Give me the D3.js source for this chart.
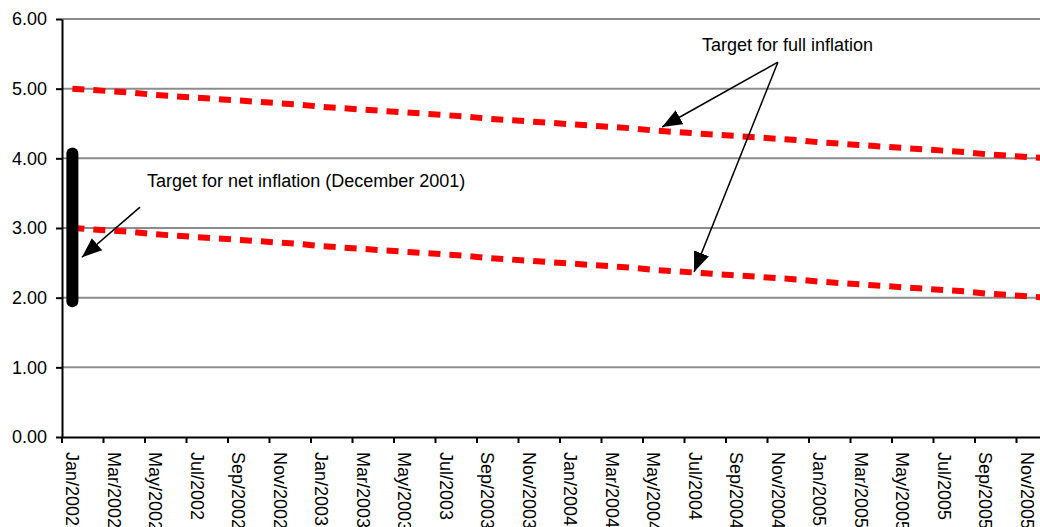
<!DOCTYPE html>
<html>
<head>
<meta charset="utf-8">
<script src="https://cdn.jsdelivr.net/npm/d3@7"></script>
<style>
  body { margin: 0; background: #fff; }
  text { font-family: Arial, "Liberation Sans", sans-serif; }
</style>
</head>
<body>
<svg id="chart"></svg>
<script>
// months Jan/2002 .. Dec/2005
var monthNames = ["Jan","Feb","Mar","Apr","May","Jun","Jul","Aug","Sep","Oct","Nov","Dec"];
var years = [2002, 2003, 2004, 2005];
var months = [];
years.forEach(function (yr) {
  monthNames.forEach(function (m) { months.push(m + "/" + yr); });
});

// full inflation target band (upper / lower)
var upperTarget = [5.00, 4.98, 4.96, 4.94, 4.91, 4.89, 4.87, 4.85, 4.83, 4.81, 4.79, 4.77,
                   4.74, 4.72, 4.70, 4.68, 4.66, 4.64, 4.62, 4.60, 4.57, 4.55, 4.53, 4.51,
                   4.49, 4.47, 4.45, 4.43, 4.40, 4.38, 4.36, 4.34, 4.32, 4.30, 4.28, 4.26,
                   4.23, 4.21, 4.19, 4.17, 4.15, 4.13, 4.11, 4.09, 4.06, 4.04, 4.02, 4.00];
var lowerTarget = [3.00, 2.98, 2.96, 2.94, 2.91, 2.89, 2.87, 2.85, 2.83, 2.81, 2.79, 2.77,
                   2.74, 2.72, 2.70, 2.68, 2.66, 2.64, 2.62, 2.60, 2.57, 2.55, 2.53, 2.51,
                   2.49, 2.47, 2.45, 2.43, 2.40, 2.38, 2.36, 2.34, 2.32, 2.30, 2.28, 2.26,
                   2.23, 2.21, 2.19, 2.17, 2.15, 2.13, 2.11, 2.09, 2.06, 2.04, 2.02, 2.00];

// net inflation target range (December 2001)
var netTarget = [4.07, 1.95];

var yTicks = [0, 1, 2, 3, 4, 5, 6];

var width = 1040, height = 527;
var plotLeft = 62, plotTop = 19, plotBottom = 437;
var monthW = 20.75;

var svg = d3.select("#chart").attr("width", width).attr("height", height);

var xs = d3.scaleBand()
  .domain(months)
  .range([plotLeft, plotLeft + months.length * monthW])
  .padding(0);
var bw = xs.bandwidth();

var ys = d3.scaleLinear().domain([0, 6]).range([plotBottom, plotTop]);

// position helper: fractional month from the left of the axis
function xAt(i) { return plotLeft + i * bw; }

// gridlines
svg.append("g")
  .selectAll("line")
  .data(yTicks.filter(function (d) { return d > 0; }))
  .enter()
  .append("line")
  .attr("x1", plotLeft)
  .attr("x2", width)
  .attr("y1", function (d) { return ys(d); })
  .attr("y2", function (d) { return ys(d); })
  .attr("stroke", "#8c8c8c")
  .attr("stroke-width", 2);

// y axis
var yAxis = svg.append("g")
  .attr("transform", "translate(" + plotLeft + ",0)")
  .call(d3.axisLeft(ys).tickValues(yTicks).tickFormat(d3.format(".2f")).tickSize(6).tickSizeOuter(0));
yAxis.select(".domain").attr("stroke", "#000").attr("stroke-width", 2);
yAxis.selectAll(".tick line").attr("stroke", "#000").attr("stroke-width", 2);
yAxis.selectAll(".tick text")
  .attr("x", -15)
  .style("font-size", "18px")
  .attr("fill", "#000");

// x axis
var labelMonths = months.filter(function (d, i) { return i % 2 == 0; });
var xAxis = svg.append("g")
  .attr("transform", "translate(0," + plotBottom + ")")
  .call(d3.axisBottom(xs).tickValues(labelMonths).tickSize(6).tickSizeOuter(0));
xAxis.select(".domain").attr("stroke", "#000").attr("stroke-width", 2);
xAxis.selectAll(".tick line")
  .attr("x1", -bw / 2)
  .attr("x2", -bw / 2)
  .attr("stroke", "#000")
  .attr("stroke-width", 2);
xAxis.selectAll(".tick text")
  .attr("transform", "rotate(90)")
  .attr("x", 15)
  .attr("y", 0)
  .attr("dy", "0.35em")
  .attr("dx", 0)
  .style("text-anchor", "start")
  .style("font-size", "18px")
  .attr("fill", "#000");

// target lines
var line = d3.line()
  .x(function (d, i) { return xs(months[i]) + bw / 2; })
  .y(function (d) { return ys(d); });

[upperTarget, lowerTarget].forEach(function (series) {
  svg.append("path")
    .datum(series)
    .attr("d", line)
    .attr("fill", "none")
    .attr("stroke", "#ff0000")
    .attr("stroke-width", 6)
    .attr("stroke-dasharray", "12,9");
});

// net inflation bar
svg.append("line")
  .attr("x1", xs(months[0]) + bw / 2)
  .attr("x2", xs(months[0]) + bw / 2)
  .attr("y1", ys(netTarget[0]))
  .attr("y2", ys(netTarget[1]))
  .attr("stroke", "#000")
  .attr("stroke-width", 12)
  .attr("stroke-linecap", "round");

// arrow marker
svg.append("defs").append("marker")
  .attr("id", "arrow")
  .attr("markerUnits", "userSpaceOnUse")
  .attr("viewBox", "0 0 20 16")
  .attr("refX", 20)
  .attr("refY", 8)
  .attr("markerWidth", 20)
  .attr("markerHeight", 16)
  .attr("orient", "auto")
  .append("path")
  .attr("d", "M0,0 L20,8 L0,16 Z")
  .attr("fill", "#000");

// annotations
var arrows = [
  { from: [3.76, 3.30], to: [0.96, 2.58] },
  { from: [34.5, 5.38], to: [28.92, 4.45] },
  { from: [34.5, 5.38], to: [30.46, 2.37] }
];
svg.append("g")
  .selectAll("line")
  .data(arrows)
  .enter()
  .append("line")
  .attr("x1", function (d) { return xAt(d.from[0]); })
  .attr("y1", function (d) { return ys(d.from[1]); })
  .attr("x2", function (d) { return xAt(d.to[0]); })
  .attr("y2", function (d) { return ys(d.to[1]); })
  .attr("stroke", "#000")
  .attr("stroke-width", 1.5)
  .attr("marker-end", "url(#arrow)");

var notes = [
  { text: "Target for net inflation (December 2001)", at: [4.1, 3.59] },
  { text: "Target for full inflation", at: [30.84, 5.54] }
];
svg.append("g")
  .selectAll("text")
  .data(notes)
  .enter()
  .append("text")
  .attr("x", function (d) { return xAt(d.at[0]); })
  .attr("y", function (d) { return ys(d.at[1]); })
  .style("font-size", "18px")
  .attr("fill", "#000")
  .text(function (d) { return d.text; });
</script>
</body>
</html>
